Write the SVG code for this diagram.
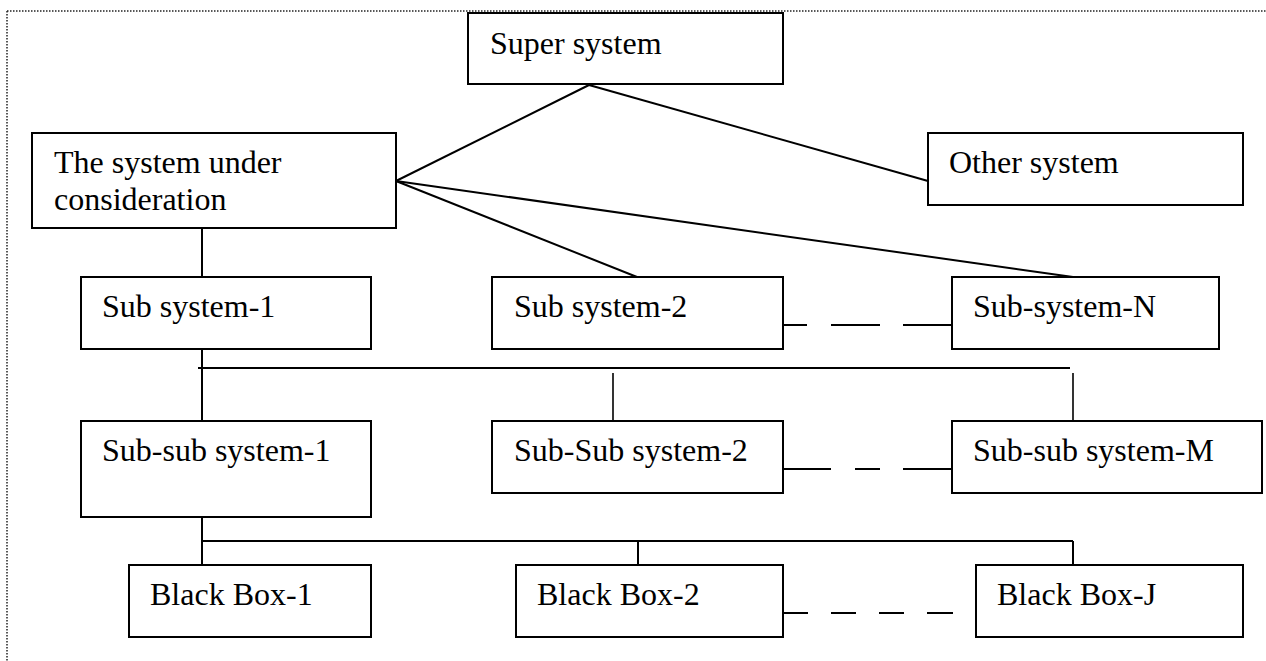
<svg xmlns="http://www.w3.org/2000/svg" width="1266" height="661" viewBox="0 0 1266 661">
  <style>
    .box { fill: #ffffff; stroke: #000000; stroke-width: 2; }
    .lbl { font-family: "Liberation Serif", "Times New Roman", serif; font-size: 32px; fill: #000000; }
    .ln { stroke: #000000; stroke-width: 2; fill: none; }
    .thin { stroke: #000000; stroke-width: 1.6; fill: none; }
    .frame { stroke: #222222; stroke-width: 1.5; stroke-dasharray: 1.5 1.5; fill: none; }
  </style>
  <rect width="1266" height="661" fill="#ffffff"/>

  <!-- dotted page frame (top and left edges) -->
  <path class="frame" d="M7 11 H1266 M7 11 V661"/>

  <!-- connectors -->
  <g id="connectors">
    <line class="ln" x1="589" y1="85" x2="396" y2="181"/>
    <line class="ln" x1="589" y1="85" x2="928" y2="181"/>
    <line class="ln" x1="396" y1="181" x2="637" y2="277"/>
    <line class="ln" x1="396" y1="181" x2="1073" y2="277"/>
    <line class="ln" x1="202" y1="228" x2="202" y2="277"/>
    <line class="ln" x1="202" y1="349" x2="202" y2="421"/>
    <line class="ln" x1="198" y1="368" x2="1070" y2="368"/>
    <line class="thin" x1="613" y1="373" x2="613" y2="421"/>
    <line class="thin" x1="1073" y1="373" x2="1073" y2="421"/>
    <path class="ln" d="M783 325 H807 M831 325 H880 M903 325 H952"/>
    <path class="ln" d="M783 469 H831 M855 469 H880 M903 469 H952"/>
    <line class="ln" x1="202" y1="517" x2="202" y2="565"/>
    <line class="ln" x1="202" y1="541" x2="1073" y2="541"/>
    <line class="ln" x1="638" y1="541" x2="638" y2="565"/>
    <line class="ln" x1="1073" y1="541" x2="1073" y2="565"/>
    <path class="ln" d="M783 613 H808 M831 613 H856 M879 613 H904 M927 613 H953 M975 613 H977"/>
  </g>

  <g id="super-system">
    <rect class="box" x="468" y="13" width="315" height="71"/>
    <text class="lbl" x="490" y="54">Super system</text>
  </g>

  <g id="system-under-consideration">
    <rect class="box" x="32" y="133" width="364" height="95"/>
    <text class="lbl" x="54" y="173">The system under</text>
    <text class="lbl" x="54" y="210">consideration</text>
  </g>

  <g id="other-system">
    <rect class="box" x="928" y="133" width="315" height="72"/>
    <text class="lbl" x="949" y="173">Other system</text>
  </g>

  <g id="sub-system-1">
    <rect class="box" x="81" y="277" width="290" height="72"/>
    <text class="lbl" x="102" y="317">Sub system-1</text>
  </g>

  <g id="sub-system-2">
    <rect class="box" x="492" y="277" width="291" height="72"/>
    <text class="lbl" x="514" y="317">Sub system-2</text>
  </g>

  <g id="sub-system-n">
    <rect class="box" x="952" y="277" width="267" height="72"/>
    <text class="lbl" x="973" y="317">Sub-system-N</text>
  </g>

  <g id="sub-sub-system-1">
    <rect class="box" x="81" y="421" width="290" height="96"/>
    <text class="lbl" x="102" y="461">Sub-sub system-1</text>
  </g>

  <g id="sub-sub-system-2">
    <rect class="box" x="492" y="421" width="291" height="72"/>
    <text class="lbl" x="514" y="461">Sub-Sub system-2</text>
  </g>

  <g id="sub-sub-system-m">
    <rect class="box" x="952" y="421" width="310" height="72"/>
    <text class="lbl" x="973" y="461">Sub-sub system-M</text>
  </g>

  <g id="black-box-1">
    <rect class="box" x="129" y="565" width="242" height="72"/>
    <text class="lbl" x="150" y="605">Black Box-1</text>
  </g>

  <g id="black-box-2">
    <rect class="box" x="516" y="565" width="267" height="72"/>
    <text class="lbl" x="537" y="605">Black Box-2</text>
  </g>

  <g id="black-box-j">
    <rect class="box" x="976" y="565" width="267" height="72"/>
    <text class="lbl" x="997" y="605">Black Box-J</text>
  </g>
</svg>
